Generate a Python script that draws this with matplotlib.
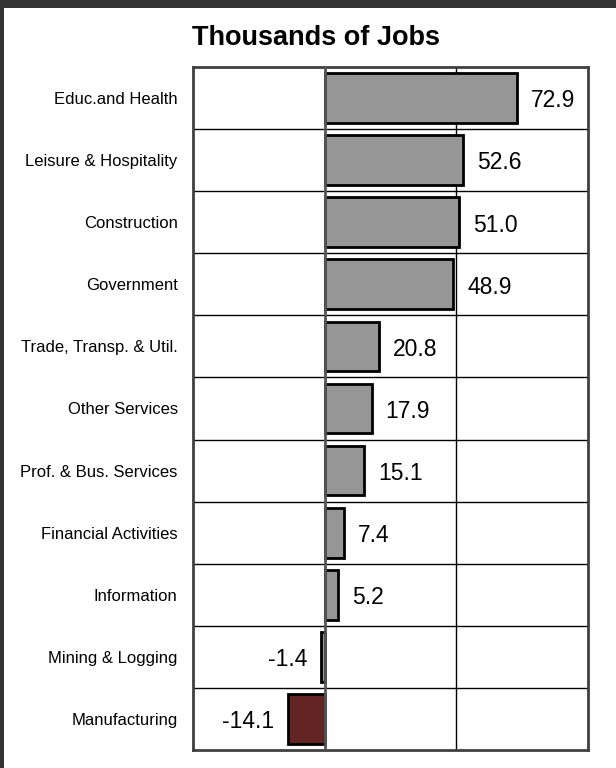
import matplotlib
matplotlib.use('Agg')
import matplotlib.pyplot as plt
from matplotlib.patches import Rectangle

# Job change by industry, thousands
industries = ['Educ.and Health', 'Leisure & Hospitality', 'Construction', 'Government',
              'Trade, Transp. & Util.', 'Other Services', 'Prof. & Bus. Services',
              'Financial Activities', 'Information', 'Mining & Logging', 'Manufacturing']
jobs = [72.9, 52.6, 51.0, 48.9, 20.8, 17.9, 15.1, 7.4, 5.2, -1.4, -14.1]
bar_colors = ['#969696'] * 10 + ['#632523']

fig = plt.figure(figsize=(6.16, 7.68), dpi=100)
fig.patch.set_facecolor('white')

# dark frame along the top and left edges
fig.patches.append(Rectangle((0, 1 - 8 / 768), 1, 8 / 768, transform=fig.transFigure,
                             facecolor='#333333', edgecolor='none', zorder=10))
fig.patches.append(Rectangle((0, 0), 4 / 616, 1, transform=fig.transFigure,
                             facecolor='#333333', edgecolor='none', zorder=10))

ax = fig.add_axes([193 / 616, 18 / 768, 395 / 616, 683 / 768])

y = list(range(len(industries)))
ax.barh(y, jobs, height=0.8, color=bar_colors, edgecolor='black', linewidth=2, zorder=3)

ax.set_xlim(-50, 100)
ax.set_ylim(len(industries) - 0.5, -0.5)

# row separators and vertical grid
for i in range(len(industries) - 1):
    ax.axhline(i + 0.5, color='black', linewidth=1, zorder=1)
ax.axvline(50, color='black', linewidth=1, zorder=1)
ax.axvline(0, color='#555555', linewidth=2, zorder=4)

for v, yy in zip(jobs, y):
    if v >= 0:
        ax.annotate(f'{v:.1f}', (v, yy), xytext=(10, -2), textcoords='offset points',
                    ha='left', va='center', fontsize=16.5, family='Liberation Sans')
    else:
        ax.annotate(f'{v:.1f}', (v, yy), xytext=(-10, -2), textcoords='offset points',
                    ha='right', va='center', fontsize=16.5, family='Liberation Sans')

ax.set_xticks([])
ax.set_yticks(y)
ax.set_yticklabels(industries, fontsize=12, family='Liberation Sans')
ax.tick_params(axis='y', length=0, pad=11)

for s in ax.spines.values():
    s.set_color('#404040')
    s.set_linewidth(2)

fig.text(0.513, 1 - 38 / 768, 'Thousands of Jobs', ha='center', va='center',
         fontsize=19.5, fontweight='bold', family='Liberation Sans')

fig.savefig('out.png', dpi=100)
